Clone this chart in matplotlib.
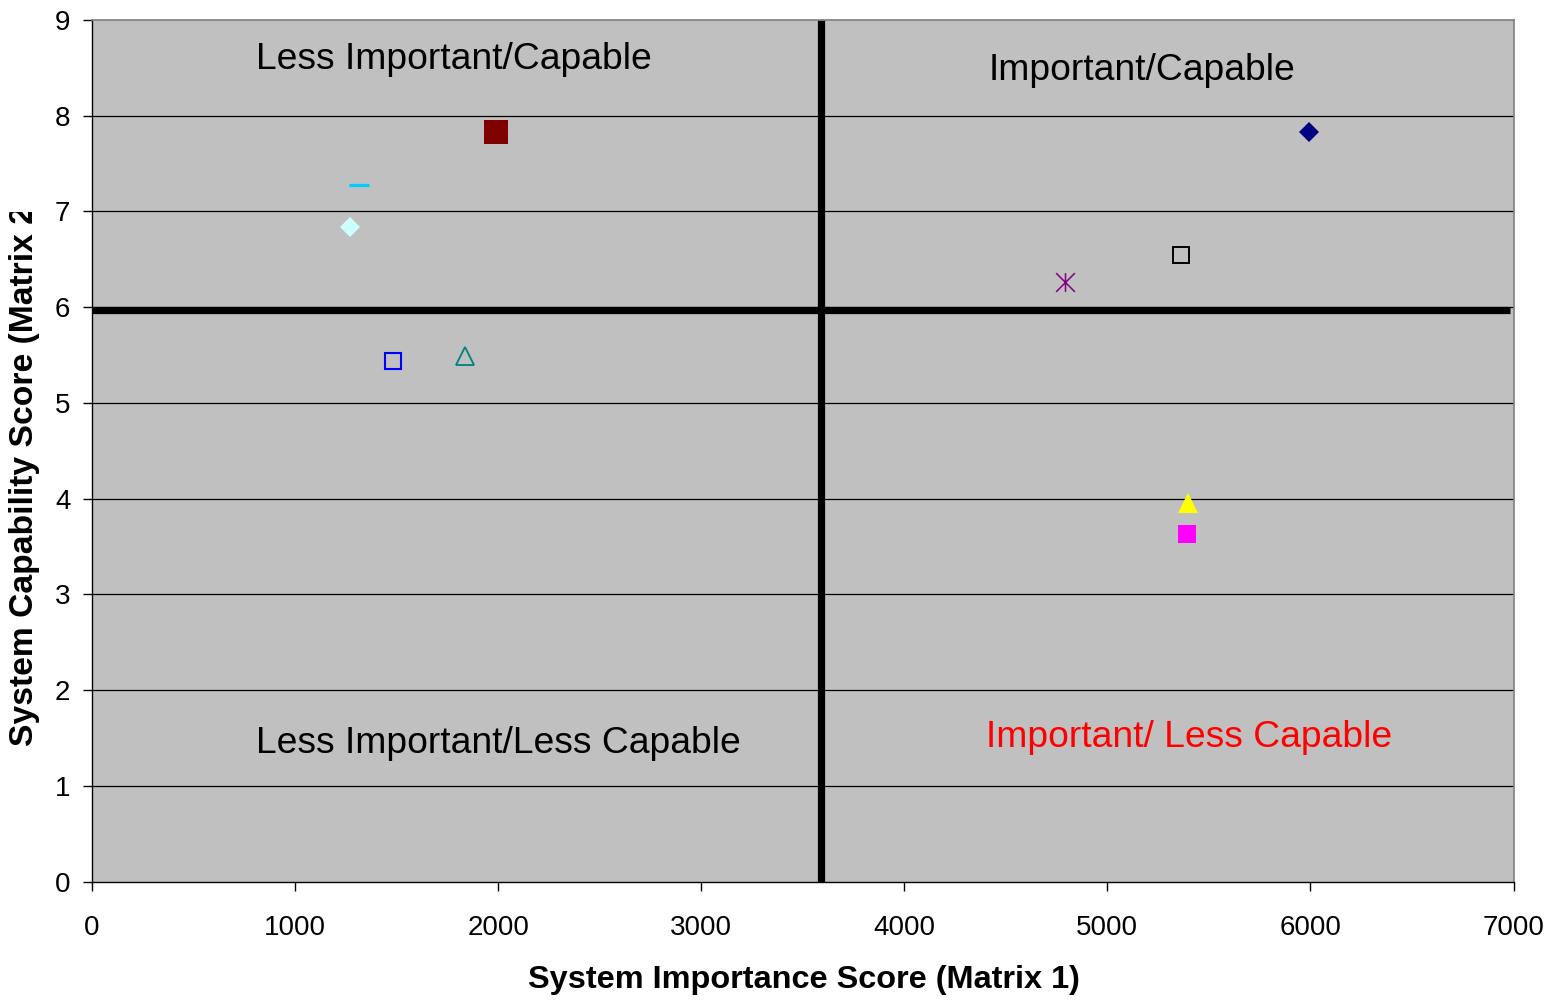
import matplotlib
matplotlib.use("Agg")
import matplotlib.pyplot as plt
from matplotlib.path import Path
from matplotlib.transforms import Bbox

plt.rcParams['font.family'] = ['Liberation Sans', 'DejaVu Sans']

# System scores: importance (Matrix 1) vs capability (Matrix 2)
importance = [1990, 1313, 1269, 1484, 1837, 4792, 5363, 5995, 5396, 5392]
capability = [7.83, 7.28, 6.84, 5.44, 5.49, 6.26, 6.55, 7.83, 3.95, 3.63]

# Quadrant dividers
divider_x = 3590
divider_y = 5.97

x_ticks = [0, 1000, 2000, 3000, 4000, 5000, 6000, 7000]
y_ticks = [0, 1, 2, 3, 4, 5, 6, 7, 8, 9]

quadrant_labels = ["Less Important/Capable", "Important/Capable",
                   "Less Important/Less Capable", "Important/ Less Capable"]
quadrant_pos = [(808, 8.59), (4414, 8.47), (808, 1.44), (4404, 1.50)]
quadrant_colors = ["black", "black", "black", "#FF0000"]

# Asterisk marker: vertical stroke plus two diagonals
ast = Path([(0, -1), (0, 1), (-1, -1), (1, 1), (-1, 1), (1, -1)],
           [Path.MOVETO, Path.LINETO, Path.MOVETO, Path.LINETO,
            Path.MOVETO, Path.LINETO])

styles = [
    dict(marker='s', ms=17, mfc='#800000', mec='#800000', mew=0),
    dict(marker='_', ms=14.5, mfc='#00CCFF', mec='#00CCFF', mew=2.3),
    dict(marker='D', ms=10.2, mfc='#CCFFFF', mec='#CCFFFF', mew=0),
    dict(marker='s', ms=12, mfc='none', mec='#0000FF', mew=1.5),
    dict(marker='^', ms=13.5, mfc='none', mec='#008080', mew=1.3),
    dict(marker=ast, ms=13.5, mfc='none', mec='#800080', mew=1.1),
    dict(marker='s', ms=12, mfc='none', mec='black', mew=1.4),
    dict(marker='D', ms=10, mfc='#000080', mec='#000080', mew=0),
    dict(marker='^', ms=14, mfc='#FFFF00', mec='#FFFF00', mew=0),
    dict(marker='s', ms=12.5, mfc='#FF00FF', mec='#FF00FF', mew=0),
]

fig = plt.figure(figsize=(15.52, 10.05), dpi=100)
ax = fig.add_axes([92 / 1552, 1 - 881.5 / 1005, 1421.5 / 1552, 861.5 / 1005])
ax.set_facecolor('#C0C0C0')

ax.set_xlim(0, 7000)
ax.set_ylim(0, 9)
ax.set_xticks(x_ticks)
ax.set_yticks(y_ticks)
ax.tick_params(axis='both', direction='out', length=6.5, width=1.0,
               labelsize=20, colors='black')
ax.tick_params(axis='x', pad=17.5)
ax.tick_params(axis='y', pad=9)

for y in y_ticks[1:-1]:
    ax.axhline(y, color='black', lw=0.9, zorder=1)

for side in ['top', 'right']:
    ax.spines[side].set_color('#808080')
    ax.spines[side].set_linewidth(1.2)
for side in ['left', 'bottom']:
    ax.spines[side].set_color('black')
    ax.spines[side].set_linewidth(1.0)

ax.plot([divider_x, divider_x], [0, 9], color='black', lw=5.2,
        solid_capstyle='butt', zorder=2)
ax.plot([0, 6985], [divider_y, divider_y], color='black', lw=5.2,
        solid_capstyle='butt', zorder=2)

for x, y, st in zip(importance, capability, styles):
    ax.plot([x], [y], linestyle='none', zorder=3, clip_on=False, **st)

for text, (tx, ty), c in zip(quadrant_labels, quadrant_pos, quadrant_colors):
    ax.text(tx, ty, text, fontsize=26.8, color=c, ha='left', va='center')

fig.text(804 / 1552, 1 - 980 / 1005, "System Importance Score (Matrix 1)",
         fontsize=23.4, fontweight='bold', ha='center', va='center')

ylab = fig.text(25 / 1552, 1 - 746 / 1005, "System Capability Score (Matrix 2)",
                fontsize=24.2, fontweight='bold', rotation=90,
                ha='center', va='bottom')
ylab.set_clip_box(Bbox.from_extents(0, 0, 80, 1005 - 212))
ylab.set_clip_on(True)

fig.savefig("out.png", dpi=100)
